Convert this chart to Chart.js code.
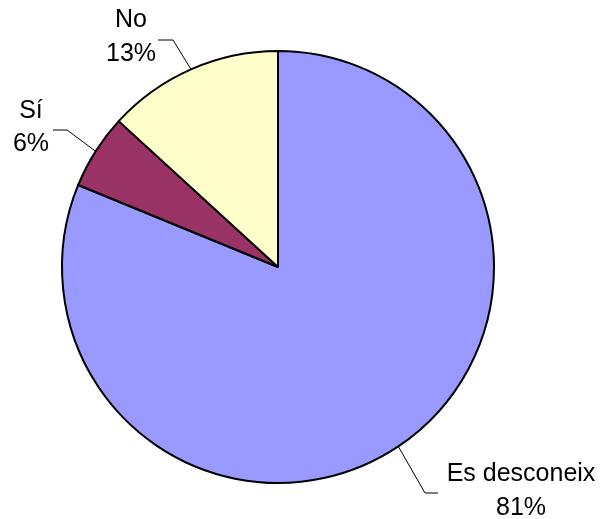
<!DOCTYPE html>
<html lang="ca">
<head>
  <meta charset="UTF-8">
  <title>Pastís</title>
  <script src="https://cdn.jsdelivr.net/npm/chart.js"></script>
  <style>
    body { margin: 0; padding: 0; background: #fff; }
    #wrap { width: 604px; height: 519px; }
  </style>
</head>
<body>
  <div id="wrap"><canvas id="pie" width="604" height="519"></canvas></div>

  <script>
    // dades llegides del gràfic
    const categories = ['Es desconeix', 'Sí', 'No'];
    const values = [81.2, 5.6, 13.2];
    const colors = ['#9999FF', '#993366', '#FFFFCC'];

    // etiquetes: colze de la línia i centre del text
    const labelPos = [
      { elbow: [425, 493], end: [438, 493], text: [521, 474], gap: 34 },
      { elbow: [67, 130], end: [53, 130], text: [31, 111], gap: 33 },
      { elbow: [173, 40], end: [158, 40], text: [131, 20], gap: 34 }
    ];

    const total = values.reduce((a, b) => a + b, 0);

    const outsideLabels = {
      id: 'outsideLabels',
      afterDatasetsDraw(chart) {
        const ctx = chart.ctx;
        const arcs = chart.getDatasetMeta(0).data;
        ctx.save();
        arcs.forEach((arc, i) => {
          const mid = (arc.startAngle + arc.endAngle) / 2;
          const x0 = arc.x + Math.cos(mid) * arc.outerRadius;
          const y0 = arc.y + Math.sin(mid) * arc.outerRadius;
          const p = labelPos[i];
          ctx.strokeStyle = '#000';
          ctx.lineWidth = 1;
          ctx.beginPath();
          ctx.moveTo(x0, y0);
          ctx.lineTo(p.elbow[0], p.elbow[1]);
          ctx.lineTo(p.end[0], p.end[1]);
          ctx.stroke();

          ctx.fillStyle = '#000';
          ctx.font = '25px "Liberation Sans", Arial, sans-serif';
          ctx.textAlign = 'center';
          ctx.textBaseline = 'middle';
          ctx.fillText(categories[i], p.text[0], p.text[1]);
          const pct = Math.round(values[i] / total * 100) + '%';
          ctx.fillText(pct, p.text[0], p.text[1] + p.gap);
        });
        ctx.restore();
      }
    };

    new Chart(document.getElementById('pie'), {
      type: 'pie',
      data: {
        labels: categories,
        datasets: [{
          data: values,
          backgroundColor: colors,
          borderColor: '#000',
          borderWidth: 2
        }]
      },
      options: {
        responsive: false,
        animation: false,
        layout: { padding: { left: 61, right: 109, top: 50, bottom: 35 } },
        plugins: {
          legend: { display: false },
          tooltip: { enabled: false }
        }
      },
      plugins: [outsideLabels]
    });
  </script>
</body>
</html>
